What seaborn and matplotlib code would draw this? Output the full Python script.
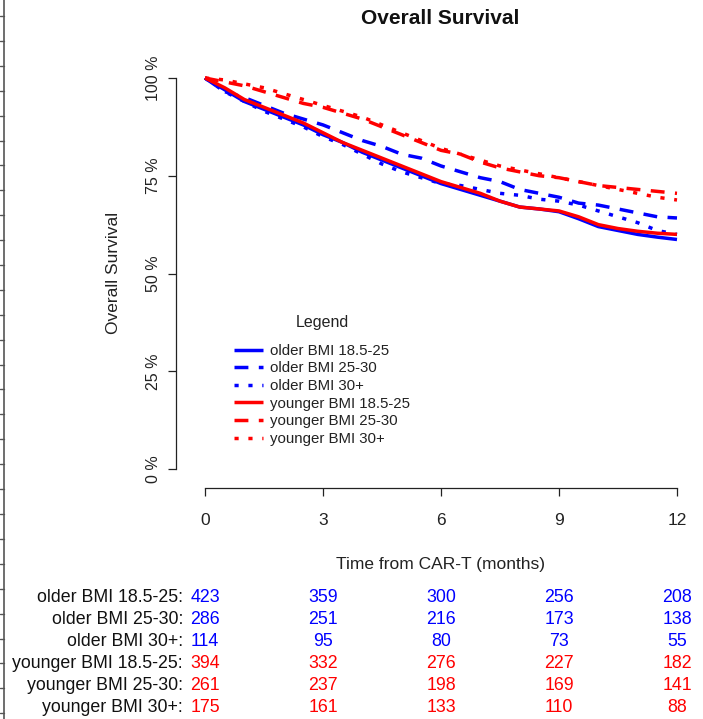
import matplotlib
matplotlib.use("Agg")
import matplotlib.pyplot as plt
import matplotlib.transforms as mtransforms
from matplotlib.lines import Line2D
import numpy as np
import pandas as pd
import seaborn as sns

# ---------------------------------------------------------------------------
# Data (overall survival, %, every half month)
# ---------------------------------------------------------------------------
MONTHS = [0, 0.5, 1, 1.5, 2, 2.5, 3, 3.5, 4, 4.5, 5, 5.5, 6,
          6.5, 7, 7.5, 8, 8.5, 9, 9.5, 10, 10.5, 11, 11.5, 12]

GROUPS = ["older BMI 18.5-25", "older BMI 25-30", "older BMI 30+",
          "younger BMI 18.5-25", "younger BMI 25-30", "younger BMI 30+"]

older_normal = [100, 97, 94, 92, 90, 88, 85.5, 83.5, 81, 79, 77, 75, 73,
                71.5, 70, 68.5, 67, 66.5, 65.8, 64, 62, 61, 60, 59.3, 58.7]
older_over = [100, 96.5, 95, 93, 91, 89.5, 88, 86, 84, 82.5, 80.5, 79.5, 77.5,
              76, 74.5, 73.5, 71.5, 70.5, 69.5, 68, 67.5, 66.5, 65.5, 64.5, 64.2]
older_obese = [100, 96.5, 94, 91.5, 89.5, 87.5, 85, 83, 80.5, 78, 76, 74.5, 73,
               72.5, 71.5, 70.5, 70, 69, 68.5, 67.5, 66, 64.5, 63, 61, 60]
younger_normal = [100, 97.5, 94.5, 92.5, 90.5, 88.5, 86, 83.5, 81.5, 79.5, 77.5, 75.5, 73.5,
                  72, 70.5, 68.5, 67, 66.5, 66, 64.5, 62.5, 61.5, 60.8, 60.3, 60]
younger_over = [100, 99, 98, 96.5, 95, 93.5, 92.5, 91, 89.5, 87.5, 85.5, 83.5, 81.5,
                80.5, 78.5, 77, 76, 75, 74.5, 73.5, 72.5, 72, 71.5, 71, 70.5]
younger_obese = [100, 99.5, 98.5, 97.5, 96, 94.5, 93, 91.5, 90, 88, 86, 84, 82,
                 80.5, 79, 77.5, 76.5, 75.5, 74.5, 73.5, 72.5, 71.5, 70.5, 69.5, 68.8]

SURVIVAL = [older_normal, older_over, older_obese,
            younger_normal, younger_over, younger_obese]

# numbers at risk
RISK_TIMES = [0, 3, 6, 9, 12]
RISK = [
    [423, 359, 300, 256, 208],
    [286, 251, 216, 173, 138],
    [114, 95, 80, 73, 55],
    [394, 332, 276, 227, 182],
    [261, 237, 198, 169, 141],
    [175, 161, 133, 110, 88],
]

BLUE, RED = "#0000ff", "#ff0000"
palette = dict(zip(GROUPS, [BLUE, BLUE, BLUE, RED, RED, RED]))
dashes = dict(zip(GROUPS, ["", (4, 3), (1.2, 2.8), "", (4, 3), (1.2, 2.8)]))

rows = []
for g, vals in zip(GROUPS, SURVIVAL):
    for t, v in zip(MONTHS, vals):
        rows.append({"month": t, "surv": v / 100, "group": g})
df = pd.DataFrame(rows)

# ---------------------------------------------------------------------------
# Plot
# ---------------------------------------------------------------------------
sns.set_theme(style="white")
plt.rcParams["font.family"] = ["Liberation Sans", "DejaVu Sans"]

W, H = 703, 719
fig = plt.figure(figsize=(W / 100, H / 100), dpi=100)
ax = fig.add_axes([205 / W, 1 - 469 / H, (677 - 205) / W, (469 - 78) / H])

sns.lineplot(data=df, x="month", y="surv", hue="group", style="group",
             hue_order=GROUPS, style_order=GROUPS, palette=palette,
             dashes=dashes, linewidth=2.5, legend=False, ax=ax, sort=True)
for ln in ax.get_lines():
    ln.set_clip_on(False)
    ln.set_solid_capstyle("butt")

ax.set_xlim(0, 12)
ax.set_ylim(0, 1)
ax.set_xticks(RISK_TIMES)
ax.set_xticklabels([str(t) for t in RISK_TIMES])
ax.set_yticks([0, 0.25, 0.5, 0.75, 1.0])
ax.set_yticklabels(["0 %", "25 %", "50 %", "75 %", "100 %"])
ax.set_xlabel("")
ax.set_ylabel("")

for side in ["top", "right"]:
    ax.spines[side].set_visible(False)
ax.spines["left"].set_position(("outward", 29 * 0.72))
ax.spines["bottom"].set_position(("outward", 19 * 0.72))
ax.spines["left"].set_bounds(0, 1)
ax.spines["bottom"].set_bounds(0, 12)
for side in ["left", "bottom"]:
    ax.spines[side].set_color("#222222")
    ax.spines[side].set_linewidth(0.9)
ax.tick_params(axis="both", which="major", direction="out", length=6,
               width=0.9, color="#222222", labelcolor="#222222",
               left=True, bottom=True)
ax.tick_params(axis="x", labelsize=12.5, pad=12)
ax.tick_params(axis="y", labelsize=11.5, pad=5, labelrotation=90)
for lab in ax.get_yticklabels():
    lab.set_verticalalignment("center")

# legend
handles = ax.get_lines()[:len(GROUPS)]
leg = ax.legend(handles, GROUPS, title="Legend", frameon=False,
                loc="upper left", bbox_to_anchor=(234 / W, 1 - 315 / H),
                bbox_transform=fig.transFigure, fontsize=10.8,
                title_fontsize=11.5, handlelength=1.9, handletextpad=0.5,
                labelspacing=0.24, borderpad=0, borderaxespad=0)
leg._legend_box.sep = 10
for t in leg.get_texts():
    t.set_color("#222222")
leg.get_title().set_color("#222222")

# titles / axis labels
fig.text(440 / W, 1 - 18 / H, "Overall Survival", ha="center", va="center",
         fontsize=15, fontweight="bold", color="#111111")
fig.text(113 / W, 1 - 273 / H, "Overall Survival", ha="center", va="center",
         rotation=90, fontsize=12.5, color="#222222")
fig.text(440 / W, 1 - 565 / H, "Time from CAR-T (months)", ha="center",
         va="center", fontsize=12.5, color="#222222")

# risk table
trans = mtransforms.blended_transform_factory(ax.transData, fig.transFigure)
row_y = [598, 620, 641, 663, 685, 707]
row_col = [BLUE, BLUE, BLUE, RED, RED, RED]
for g, y, counts, c in zip(GROUPS, row_y, RISK, row_col):
    fig.text(183 / W, 1 - y / H, g + ":", ha="right", va="center",
             fontsize=12.8, color="#111111")
    for t, n in zip(RISK_TIMES, counts):
        ax.text(t, 1 - y / H, str(n), transform=trans, ha="center",
                va="center", fontsize=12.8, color=c, clip_on=False)

# left page border with tick marks (screenshot edge)
fig.add_artist(Line2D([3.5 / W, 3.5 / W], [0, 1], transform=fig.transFigure,
                      color="#555555", linewidth=1.2))
for yy in np.arange(16, H, 24.9):
    fig.add_artist(Line2D([0, 3.5 / W], [1 - yy / H, 1 - yy / H],
                          transform=fig.transFigure, color="#555555",
                          linewidth=1.0))

fig.savefig("out.png", dpi=100)
